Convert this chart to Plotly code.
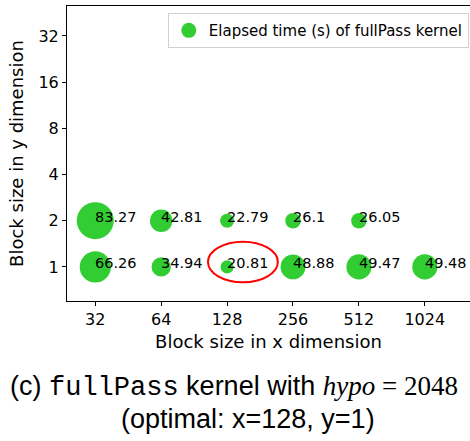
import numpy as np
import plotly.graph_objects as go

# Block sizes (x, y) and elapsed time (s) of the fullPass kernel
block_x = [32, 64, 128, 256, 512, 32, 64, 128, 256, 512, 1024]
block_y = [2, 2, 2, 2, 2, 1, 1, 1, 1, 1, 1]
elapsed = [83.27, 42.81, 22.79, 26.1, 26.05, 66.26, 34.94, 20.81, 48.88, 49.47, 49.48]
labels = ["83.27", "42.81", "22.79", "26.1", "26.05",
          "66.26", "34.94", "20.81", "48.88", "49.47", "49.48"]

x_ticks = [32, 64, 128, 256, 512, 1024]
y_ticks = [1, 2, 4, 8, 16, 32]

# optimal configuration
best_x, best_y = 128, 1

GREEN = "#32CD32"
FONT = "DejaVu Sans"

# bubble diameter grows with elapsed time
sizes = [1.343 * v ** 0.75 for v in elapsed]

fig = go.Figure()
fig.add_trace(go.Scatter(
    x=block_x, y=block_y, mode="markers",
    marker=dict(size=sizes, sizemode="diameter", sizeref=1, color=GREEN,
                line=dict(width=0), opacity=1),
    showlegend=False, hoverinfo="skip",
))
# legend entry
fig.add_trace(go.Scatter(
    x=[None], y=[None], mode="markers",
    marker=dict(size=15, color=GREEN, line=dict(width=0)),
    name="Elapsed time (s) of fullPass kernel",
))

annotations = []
for xv, yv, lab in zip(block_x, block_y, labels):
    annotations.append(dict(
        x=np.log10(xv), y=np.log10(yv), xref="x", yref="y",
        text=lab, showarrow=False, xanchor="left", yanchor="middle",
        xshift=-2, yshift=4,
        font=dict(family=FONT, size=14.5, color="black"),
    ))

caption1 = ('(c) <span style="font-family:Liberation Mono">fullPass</span> kernel with '
            '<span style="font-family:Liberation Serif"><i>hypo</i> = 2048</span>')
caption2 = "(optimal: x=128, y=1)"

W, H = 470, 441
L, R, T, B = 67, 0, 6, 140
pw, ph = W - L - R, H - T - B


def px_to_paper(px, py):
    return (px - L) / pw, (H - B - py) / ph


cx1, cy1 = px_to_paper(234, 387)
cx2, cy2 = px_to_paper(248, 419)
annotations.append(dict(x=cx1, y=cy1, xref="paper", yref="paper", text=caption1,
                        showarrow=False, xanchor="center", yanchor="middle",
                        font=dict(family="Liberation Sans", size=27, color="black")))
annotations.append(dict(x=cx2, y=cy2, xref="paper", yref="paper", text=caption2,
                        showarrow=False, xanchor="center", yanchor="middle",
                        font=dict(family="Liberation Sans", size=27, color="black")))

fig.update_layout(
    width=W, height=H,
    margin=dict(l=L, r=R, t=T, b=B, pad=0),
    plot_bgcolor="white", paper_bgcolor="white",
    font=dict(family=FONT, size=16, color="black"),
    annotations=annotations,
    # red ring around the fastest configuration
    shapes=[dict(
        type="circle", xref="x", yref="y",
        x0=best_x * 2 ** -0.29, x1=best_x * 2 ** 0.77,
        y0=best_y * 2 ** -0.333, y1=best_y * 2 ** 0.545,
        line=dict(color="red", width=2),
    )],
    legend=dict(
        x=0.997, y=0.976, xanchor="right", yanchor="top",
        bordercolor="#d0d0d0", borderwidth=1, bgcolor="white",
        font=dict(family=FONT, size=15, color="black"),
    ),
    xaxis=dict(
        type="log", range=[1.3759, 3.2168],
        tickvals=x_ticks, ticktext=[str(v) for v in x_ticks],
        showgrid=False, zeroline=False,
        showline=True, linecolor="black", linewidth=1, mirror=True,
        ticks="outside", ticklen=4, tickcolor="black",
        tickfont=dict(size=16),
        title=dict(text="Block size in x dimension", font=dict(size=18), standoff=7),
    ),
    yaxis=dict(
        type="log", range=[-0.2222, 1.700],
        tickvals=y_ticks, ticktext=[str(v) for v in y_ticks],
        showgrid=False, zeroline=False,
        showline=True, linecolor="black", linewidth=1,
        ticks="outside", ticklen=4, tickcolor="black",
        tickfont=dict(size=16),
        title=dict(text="Block size in y dimension", font=dict(size=18), standoff=10),
    ),
)

fig.write_html("out.html")
